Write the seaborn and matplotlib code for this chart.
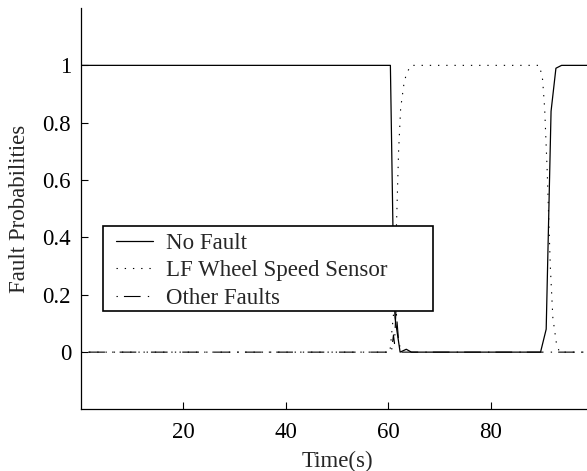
import numpy as np
import pandas as pd
import matplotlib
matplotlib.use("Agg")
import matplotlib.pyplot as plt
from matplotlib.patches import Rectangle
import seaborn as sns

# knots (time in s, probability)
t_nofault = [0, 60.4, 61.0, 61.3, 62.3, 63.5, 64.5, 89.7, 90.8, 91.75, 92.7, 93.8, 100]
p_nofault = [1.0, 1.0, 0.32, 0.12, 0.0, 0.01, 0.0, 0.0, 0.08, 0.84, 0.99, 1.0, 1.0]

t_lf = [0, 60.3, 61.0, 61.6, 62.0, 62.4, 63.0, 63.5, 64.4, 89.5, 90.1, 90.5, 91.0,
        91.6, 92.1, 92.8, 93.4, 100]
p_lf = [0.0, 0.0, 0.13, 0.45, 0.7, 0.85, 0.93, 0.97, 1.0, 1.0, 0.95, 0.85, 0.63,
        0.3, 0.12, 0.03, 0.0, 0.0]

t_other = [0, 60.6, 61.0, 61.2, 61.5, 62.0, 62.5, 100]
p_other = [0.0, 0.0, 0.06, 0.03, 0.15, 0.04, 0.0, 0.0]

labels = ["No Fault", "LF Wheel Speed Sensor", "Other Faults"]
yticks = [0, 0.2, 0.4, 0.6, 0.8, 1]
xticks = [20, 40, 60, 80]

sns.set_style("ticks")
plt.rcParams["font.family"] = ["Liberation Serif", "DejaVu Serif"]

FS = 16.5

fig = plt.figure(figsize=(5.87, 4.71), dpi=100)
ax = fig.add_axes([0.1377, 0.1306, 0.8731, 0.8524])

df_nf = pd.DataFrame({"t": t_nofault, "p": p_nofault})
df_lf = pd.DataFrame({"t": t_lf, "p": p_lf})
df_ot = pd.DataFrame({"t": t_other, "p": p_other})

sns.lineplot(data=df_nf, x="t", y="p", ax=ax, color="black", lw=0.9,
             linestyle="-", label=labels[0])
sns.lineplot(data=df_lf, x="t", y="p", ax=ax, color="black", lw=0.8,
             linestyle=(0, (1.2, 6.2)), label=labels[1])
sns.lineplot(data=df_ot, x="t", y="p", ax=ax, color="black", lw=0.8,
             linestyle=(0, (1.2, 5.5, 15, 6.5)), label=labels[2])

ax.set_xlim(0, 100)
ax.set_ylim(-0.2, 1.2)
ax.set_xticks(xticks)
ax.set_xticklabels([str(v) for v in xticks])
ax.set_yticks(yticks)
ax.set_yticklabels(["0", "0.2", "0.4", "0.6", "0.8", "1"])
ax.tick_params(direction="in", length=5, width=0.8, labelsize=FS, colors="black")
ax.tick_params(axis="x", pad=9)
ax.tick_params(axis="y", pad=7)
sns.despine(ax=ax)
for s in ["left", "bottom"]:
    ax.spines[s].set_linewidth(0.9)
    ax.spines[s].set_color("black")

ax.set_xlabel("Time(s)", fontsize=FS, labelpad=6)
ax.set_ylabel("Fault Probabilities", fontsize=FS, labelpad=9)

# legend box (MATLAB-style, wider than its text)
ax.add_patch(Rectangle((0.0427, 0.246), 0.644, 0.211, transform=ax.transAxes,
                       facecolor="white", edgecolor="black", lw=1.2, zorder=4))
leg = ax.legend(loc="center left", bbox_to_anchor=(0.0687, 0.345), borderaxespad=0,
                fontsize=FS, frameon=False, handlelength=1.6,
                handletextpad=0.6, labelspacing=0.3, borderpad=0)
leg.set_zorder(5)

fig.savefig("out.png", dpi=100)
